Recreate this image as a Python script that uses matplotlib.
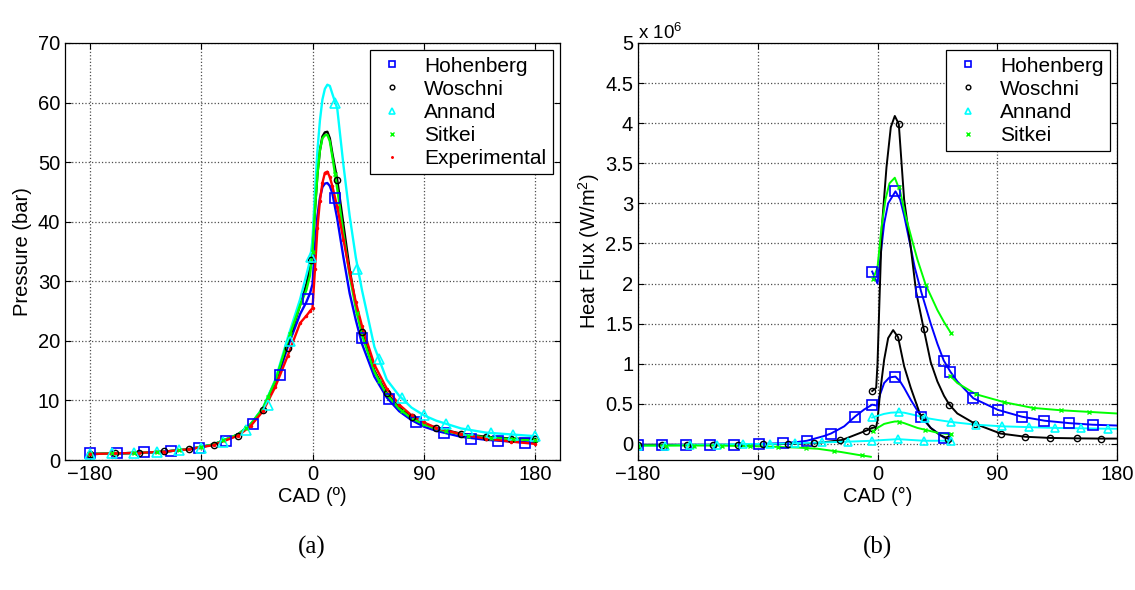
import matplotlib
matplotlib.use("Agg")
import matplotlib.pyplot as plt

plt.rcParams['font.family'] = ['Liberation Sans', 'DejaVu Sans']
plt.rcParams['mathtext.fontset'] = 'custom'
plt.rcParams['mathtext.rm'] = 'Liberation Sans'
plt.rcParams['mathtext.it'] = 'Liberation Sans:italic'
plt.rcParams['mathtext.bf'] = 'Liberation Sans:bold'

# ---------------- (a) pressure, bar ----------------
cad_p = [-180, -160, -140, -120, -100, -80, -60, -50, -40, -30, -20, -10, -5, -2, 0, 2, 4, 6, 8, 10,
         12, 14, 16, 20, 25, 30, 35, 40, 50, 60, 70, 80, 90, 100, 120, 140, 160, 180]
p_hohenberg = [1.0, 1.1, 1.2, 1.4, 1.8, 2.6, 4.3, 5.9, 8.5, 12.6, 19.0, 24.5, 26.5, 28, 29.5, 36, 41, 44, 45.8, 46.4,
               46.5, 46.0, 44.8, 40.5, 34, 28, 23.5, 19.5, 14.0, 10.5, 8.2, 6.7, 5.6, 4.9, 3.9, 3.4, 3.1, 2.9]
p_woschni = [1.0, 1.1, 1.2, 1.4, 1.8, 2.6, 4.3, 6.0, 8.6, 13.3, 19.5, 26.0, 29.5, 32.5, 36, 42, 48, 52, 54.3, 55.0,
             55.1, 54.0, 51.5, 47.0, 39.5, 32.0, 26.0, 21.5, 15.0, 11.2, 8.8, 7.2, 6.1, 5.4, 4.4, 3.9, 3.6, 3.5]
p_annand = [1.0, 1.1, 1.2, 1.4, 1.8, 2.6, 4.3, 6.0, 8.8, 13.5, 20.5, 27.0, 31.0, 33.5, 37, 45, 52, 57, 60.5, 62.3,
            63.0, 62.8, 61.5, 59.0, 49.5, 41.0, 34.0, 28.5, 19.0, 13.5, 10.8, 8.8, 7.5, 6.6, 5.3, 4.6, 4.3, 4.0]
p_sitkei = [1.0, 1.1, 1.2, 1.4, 1.8, 2.6, 4.3, 6.0, 8.7, 13.3, 20.0, 26.0, 28.5, 31, 35, 42, 48, 52, 54, 54.5,
            54.6, 53.5, 51, 45.5, 38, 31, 25.5, 21, 14.8, 11.0, 8.6, 7.0, 6.0, 5.2, 4.3, 3.8, 3.5, 3.3]
p_exp = [1.0, 1.1, 1.2, 1.4, 1.8, 2.5, 4.1, 5.7, 8.2, 12.3, 17.5, 23.0, 24.2, 25.0, 25.5, 32, 39, 43.5, 46.5, 48.2,
         48.4, 47.5, 46, 42.5, 37, 31.5, 26.5, 22.5, 16.0, 12.0, 9.3, 7.5, 6.3, 5.4, 4.3, 3.6, 3.1, 2.7]

# marker positions (a)
hoh_mx = [-180, -158, -136, -114, -92, -70, -48, -26, -4, 18, 40, 62, 84, 106, 128, 150, 172]
hoh_my = [1.1, 1.1, 1.3, 1.5, 2.0, 3.2, 6.1, 14.2, 27.0, 43.9, 20.4, 10.2, 6.3, 4.5, 3.6, 3.2, 2.9]
wos_mx = [-180, -160, -140, -120, -100, -80, -60, -40, -20, -1, 20, 40, 60, 80, 100, 120, 140, 160, 180]
wos_my = [1.0, 1.1, 1.2, 1.5, 1.9, 2.5, 4.1, 8.4, 18.8, 33.5, 47.0, 21.5, 11.2, 7.2, 5.4, 4.4, 3.9, 3.6, 3.5]
ann_mx = [-180, -162, -144, -126, -108, -90, -72, -54, -36, -18, -1.5, 18, 36, 54, 72, 90, 108, 126, 144, 162, 180]
ann_my = [1.0, 1.1, 1.25, 1.4, 1.65, 2.0, 3.0, 5.0, 9.3, 20.0, 34.0, 60.0, 32.0, 17.0, 10.4, 7.5, 6.0, 5.1, 4.5, 4.2, 4.0]
sit_mx = [-180, -162, -144, -126, -108, -90, -72, -54, -36, -18, 0, 18, 36, 54, 72, 90, 108, 126, 144, 162, 180]
sit_my = [1.0, 1.1, 1.2, 1.35, 1.65, 2.2, 3.3, 5.3, 10.5, 21.2, 35, 48, 24.6, 13.3, 8.3, 6.0, 4.8, 4.1, 3.7, 3.5, 3.3]

# ---------------- (b) heat flux, x 10^6 W/m^2 ----------------
hoh_lx = [-180, -162, -144, -126, -108, -89, -71, -60, -53, -40, -35, -25, -17, -10, -4, -1, 0, 2, 5, 9,
          13.5, 17, 20, 25, 32.8, 40, 49.8, 55]
hoh_ly = [-0.01, -0.01, -0.01, -0.01, -0.01, 0.0, 0.01, 0.025, 0.04, 0.1, 0.13, 0.22, 0.34, 0.43, 0.49, 0.48, 0.5, 0.62, 0.76, 0.83,
          0.84, 0.78, 0.70, 0.55, 0.34, 0.2, 0.08, 0.06]
hoh_ux = [-4, 0, 2, 5, 8, 13.5, 17, 20, 25, 28, 32.8, 40, 45, 49.8, 54.8, 60, 72, 90.5, 108.5, 125.5, 144, 161.6, 180]
hoh_uy = [2.15, 2.0, 2.3, 2.75, 3.0, 3.15, 3.05, 2.85, 2.45, 2.2, 1.9, 1.5, 1.25, 1.04, 0.9, 0.78, 0.57, 0.425, 0.34, 0.29, 0.26, 0.24, 0.23]

wos_lx = [-180, -160, -140, -120, -100, -85, -66, -46, -26.5, -8, -4, -1, 0, 2, 5, 8, 11.75, 15.5, 20, 25, 32, 40, 47, 54]
wos_ly = [-0.01, -0.01, -0.01, -0.01, -0.01, 0.0, 0.0, 0.01, 0.05, 0.17, 0.2, 0.21, 0.3, 0.65, 1.05, 1.32, 1.42, 1.33, 0.97, 0.7, 0.37, 0.2, 0.11, 0.06]
wos_ux = [-4, -1, 0, 1.5, 3.25, 6.75, 10, 13, 16, 20, 25, 29, 34.8, 40, 45, 50, 54, 60, 73.5, 92.5, 111, 130, 150, 168, 180]
wos_uy = [0.66, 0.7, 1.0, 1.8, 2.7, 3.45, 3.95, 4.09, 3.99, 3.05, 2.45, 1.9, 1.43, 1.02, 0.78, 0.6, 0.49, 0.38, 0.25, 0.13, 0.09, 0.075, 0.07, 0.067, 0.067]

ann_lx = [-180, -160, -140, -120, -100, -80, -60, -40, -20, -4, 5, 15.5, 25, 35, 45, 55]
ann_ly = [-0.02, -0.02, -0.01, -0.01, 0.0, 0.0, 0.01, 0.02, 0.03, 0.04, 0.05, 0.06, 0.05, 0.04, 0.04, 0.04]
ann_ux = [-4, 0, 5, 10, 16, 20, 28, 36, 45, 55, 74, 93.5, 113.5, 133.5, 153, 173, 180]
ann_uy = [0.33, 0.35, 0.375, 0.39, 0.395, 0.39, 0.36, 0.325, 0.3, 0.275, 0.24, 0.22, 0.21, 0.2, 0.195, 0.19, 0.19]

sit_1x = [-180, -150, -120, -88, -60, -45, -27.5, -15, -5]
sit_1y = [-0.02, -0.02, -0.02, -0.03, -0.045, -0.06, -0.10, -0.135, -0.16]
sit_2x = [-3.25, 0, 5, 10, 13, 16, 20, 30, 35, 45, 55]
sit_2y = [0.16, 0.2, 0.25, 0.27, 0.28, 0.28, 0.26, 0.2, 0.18, 0.14, 0.12]
sit_3x = [-3.25, 0, 3, 6, 9, 13, 17, 21, 26, 30, 36.3, 40, 45, 50, 55.3]
sit_3y = [2.06, 2.2, 2.7, 3.05, 3.25, 3.32, 3.15, 2.85, 2.54, 2.3, 1.98, 1.85, 1.67, 1.52, 1.38]
sit_4x = [54.7, 60, 74, 95.4, 116.6, 137.9, 159, 180]
sit_4y = [0.85, 0.76, 0.62, 0.52, 0.45, 0.42, 0.40, 0.38]

# marker positions (b)
hoh_lmx = [-180, -162, -144, -126, -108, -89, -71, -53, -35, -17, -4, 13.5, 32.8, 49.8]
hoh_lmy = [-0.01, -0.01, -0.01, -0.01, -0.01, 0.0, 0.01, 0.04, 0.13, 0.34, 0.49, 0.84, 0.34, 0.08]
hoh_umx = [-4, 13.5, 32.8, 49.8, 54.8, 72, 90.5, 108.5, 125.5, 144, 161.6]
hoh_umy = [2.15, 3.15, 1.9, 1.04, 0.9, 0.57, 0.425, 0.34, 0.29, 0.26, 0.24]
wos_lmx = [-180, -162, -143, -124, -105, -86, -67, -47.5, -28, -9, -4, 15.5, 34, 53]
wos_lmy = [-0.01, -0.01, -0.01, -0.01, -0.01, 0.0, 0.0, 0.01, 0.05, 0.16, 0.2, 1.33, 0.33, 0.06]
wos_umx = [-4, 16, 34.8, 54, 73.5, 92.5, 111, 130, 150, 168]
wos_umy = [0.66, 3.99, 1.43, 0.49, 0.25, 0.13, 0.09, 0.075, 0.07, 0.067]
ann_lmx = [-180, -160, -141, -121, -101, -81, -62, -42, -22, -4, 15.5, 35, 55]
ann_lmy = [-0.02, -0.02, -0.01, -0.01, 0.0, 0.0, 0.01, 0.02, 0.03, 0.04, 0.06, 0.04, 0.04]
ann_umx = [-4, 16, 36, 55, 74, 93.5, 113.5, 133.5, 153, 173]
ann_umy = [0.33, 0.395, 0.325, 0.275, 0.24, 0.22, 0.21, 0.2, 0.195, 0.19]
sit_mx_b = [-180, -159, -138, -117, -96, -75, -54, -33, -12, -3.25, 16, 36, 55, -3.25, 16, 36.3, 55.3,
            54.7, 74, 95.4, 116.6, 137.9, 159]
sit_my_b = [-0.02, -0.02, -0.02, -0.02, -0.03, -0.04, -0.05, -0.09, -0.14, 0.16, 0.28, 0.18, 0.12, 2.06, 3.2, 1.98, 1.38,
            0.85, 0.62, 0.52, 0.45, 0.42, 0.40]

BLUE, BLACK, CYAN, GREEN, RED = (0, 0, 1), (0, 0, 0), (0, 1, 1), (0, 1, 0), (1, 0, 0)
FS = 14.5
LFS = 15

fig = plt.figure(figsize=(11.35, 5.9), dpi=100)
ax1 = fig.add_axes([65 / 1135, 130 / 590, 495 / 1135, 417 / 590])
ax2 = fig.add_axes([638 / 1135, 130 / 590, 479 / 1135, 417 / 590])


def style(ax):
    ax.grid(True, linestyle=':', color='0.3', linewidth=0.9)
    ax.set_axisbelow(True)
    ax.tick_params(direction='in', top=True, right=True, labelsize=FS, length=4, width=0.8)
    for s in ax.spines.values():
        s.set_linewidth(0.9)
        s.set_color('k')


# ---- (a)
lw = 1.7
ax1.plot(cad_p, p_hohenberg, color=BLUE, lw=lw)
ax1.plot(cad_p, p_woschni, color=BLACK, lw=lw)
ax1.plot(cad_p, p_annand, color=CYAN, lw=lw)
ax1.plot(cad_p, p_sitkei, color=GREEN, lw=lw)
ax1.plot(cad_p, p_exp, color=RED, lw=lw)
ax1.plot(hoh_mx, hoh_my, 's', mfc='none', mec=BLUE, ms=6.5, mew=1.2, label='Hohenberg')
ax1.plot(wos_mx, wos_my, 'o', mfc='none', mec=BLACK, ms=4.5, mew=1.0, label='Woschni')
ax1.plot(ann_mx, ann_my, '^', mfc='none', mec=CYAN, ms=6.5, mew=1.2, label='Annand')
ax1.plot(sit_mx, sit_my, 'x', color=GREEN, ms=3.5, mew=1.0, label='Sitkei')
ax1.plot(cad_p, p_exp, '.', color=RED, ms=3, label='Experimental')
ax1.set_xlim(-200, 200)
ax1.set_ylim(0, 70)
ax1.set_xticks([-180, -90, 0, 90, 180])
ax1.set_yticks(range(0, 71, 10))
ax1.set_xlabel('CAD (º)', fontsize=FS, labelpad=2)
ax1.set_ylabel('Pressure (bar)', fontsize=FS, labelpad=4)
style(ax1)
leg1 = ax1.legend(loc='upper right', fontsize=LFS, frameon=True, fancybox=False, framealpha=1,
                  edgecolor='k', handlelength=1.5, handletextpad=0.8, labelspacing=0.2,
                  borderpad=0.3, borderaxespad=0.35, markerscale=0.75)
leg1.get_frame().set_linewidth(0.9)

# ---- (b)
lw = 1.4
ax2.plot(hoh_lx, hoh_ly, color=BLUE, lw=lw)
ax2.plot(hoh_ux, hoh_uy, color=BLUE, lw=lw)
ax2.plot(wos_lx, wos_ly, color=BLACK, lw=lw)
ax2.plot(wos_ux, wos_uy, color=BLACK, lw=lw)
ax2.plot(ann_lx, ann_ly, color=CYAN, lw=lw)
ax2.plot(ann_ux, ann_uy, color=CYAN, lw=lw)
for sx, sy in [(sit_1x, sit_1y), (sit_2x, sit_2y), (sit_3x, sit_3y), (sit_4x, sit_4y)]:
    ax2.plot(sx, sy, color=GREEN, lw=lw)
ax2.plot(hoh_lmx, hoh_lmy, 's', mfc='none', mec=BLUE, ms=6.5, mew=1.2, label='Hohenberg')
ax2.plot(hoh_umx, hoh_umy, 's', mfc='none', mec=BLUE, ms=6.5, mew=1.2)
ax2.plot(wos_lmx, wos_lmy, 'o', mfc='none', mec=BLACK, ms=4.5, mew=1.0, label='Woschni')
ax2.plot(wos_umx, wos_umy, 'o', mfc='none', mec=BLACK, ms=4.5, mew=1.0)
ax2.plot(ann_lmx, ann_lmy, '^', mfc='none', mec=CYAN, ms=6, mew=1.2, label='Annand')
ax2.plot(ann_umx, ann_umy, '^', mfc='none', mec=CYAN, ms=6, mew=1.2)
ax2.plot(sit_mx_b, sit_my_b, 'x', color=GREEN, ms=3.5, mew=1.0, label='Sitkei')
ax2.set_xlim(-180, 180)
ax2.set_ylim(-0.2, 5)
ax2.set_xticks([-180, -90, 0, 90, 180])
ax2.set_yticks([0, 0.5, 1, 1.5, 2, 2.5, 3, 3.5, 4, 4.5, 5])
ax2.set_yticklabels(['0', '0.5', '1', '1.5', '2', '2.5', '3', '3.5', '4', '4.5', '5'])
ax2.set_xlabel('CAD (°)', fontsize=FS, labelpad=2)
ax2.set_ylabel('Heat Flux (W/m$^2$)', fontsize=FS, labelpad=2)
ax2.text(0.0, 1.0, 'x 10$^6$', transform=ax2.transAxes, fontsize=FS - 1, ha='left', va='bottom')
style(ax2)
leg2 = ax2.legend(loc='upper right', fontsize=LFS, frameon=True, fancybox=False, framealpha=1,
                  edgecolor='k', handlelength=1.5, handletextpad=0.8, labelspacing=0.2,
                  borderpad=0.3, borderaxespad=0.35, markerscale=0.75)
leg2.get_frame().set_linewidth(0.9)

fig.text(312 / 1135, 1 - 547 / 590, '(a)', fontsize=18, family='Liberation Serif', ha='center', va='center')
fig.text(878 / 1135, 1 - 547 / 590, '(b)', fontsize=18, family='Liberation Serif', ha='center', va='center')

fig.savefig('out.png', dpi=100)
